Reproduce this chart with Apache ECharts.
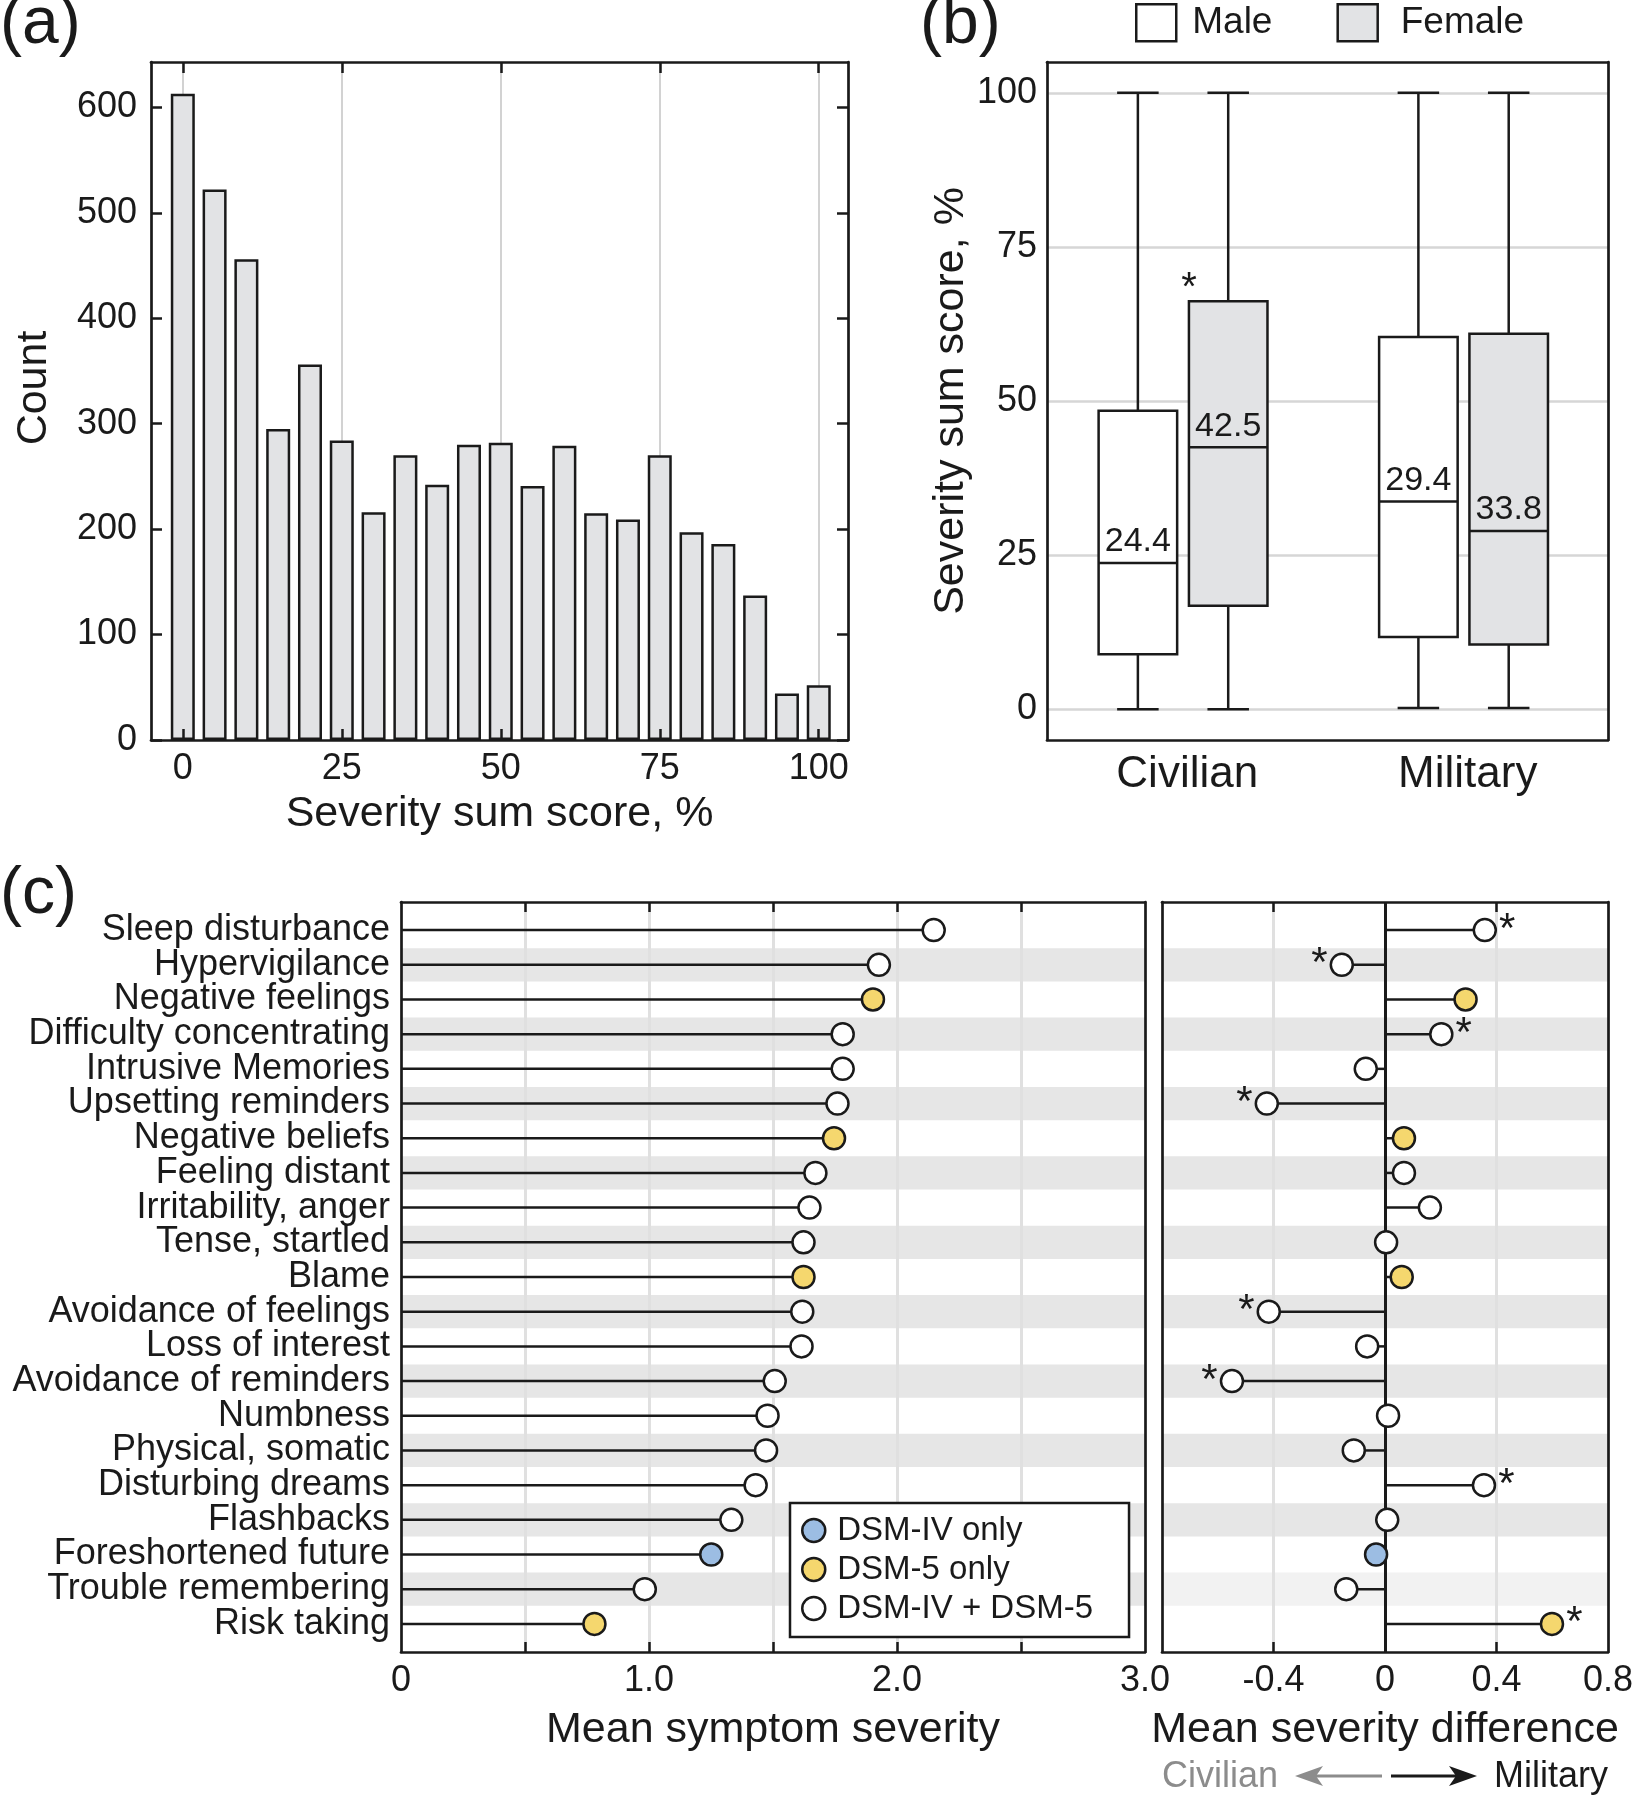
<!DOCTYPE html>
<html>
<head>
<meta charset="utf-8">
<title>PTSD symptom severity</title>
<script src="https://cdn.jsdelivr.net/npm/echarts@6/dist/echarts.min.js"></script>
<style>
    html, body { margin: 0; padding: 0; background: #fff; }
    #chart { width: 1638px; height: 1800px; }
</style>
</head>
<body>
<div id="chart"></div>
<script>
// (a) histogram of severity sum score
const binCenters = [0, 5, 10, 15, 20, 25, 30, 35, 40, 45, 50, 55, 60, 65, 70, 75, 80, 85, 90, 95, 100]
const binCounts = [613, 522, 456, 295, 356, 284, 216, 270, 242, 280, 282, 241, 279, 215, 209, 270, 197, 186, 137, 44, 52]
const scoreTicks = [0, 25, 50, 75, 100]
const countTicks = [0, 100, 200, 300, 400, 500, 600]

// (b) box plots, each row: [min, q1, median, q3, max]
const groups = ['Civilian', 'Military']
const maleStats = [[0, 8.9, 23.7, 48.4, 100], [0.2, 11.7, 33.7, 60.4, 100]]
const femaleStats = [[0, 16.8, 42.5, 66.2, 100], [0.2, 10.5, 28.9, 60.9, 100]]
const maleLabels = ['24.4', '29.4']
const femaleLabels = ['42.5', '33.8']
const femaleSignificant = [true, false]

// (c) symptoms
const symptoms = [
    'Sleep disturbance', 'Hypervigilance', 'Negative feelings', 'Difficulty concentrating',
    'Intrusive Memories', 'Upsetting reminders', 'Negative beliefs', 'Feeling distant',
    'Irritability, anger', 'Tense, startled', 'Blame', 'Avoidance of feelings',
    'Loss of interest', 'Avoidance of reminders', 'Numbness', 'Physical, somatic',
    'Disturbing dreams', 'Flashbacks', 'Foreshortened future', 'Trouble remembering', 'Risk taking'
]
const meanSeverity = [2.148, 1.927, 1.903, 1.781, 1.781, 1.760, 1.746, 1.671, 1.647, 1.623, 1.623,
    1.618, 1.615, 1.507, 1.478, 1.472, 1.430, 1.332, 1.251, 0.983, 0.780]
const meanDifference = [0.358, -0.155, 0.289, 0.202, -0.069, -0.424, 0.068, 0.068, 0.161, 0.004, 0.060,
    -0.417, -0.064, -0.549, 0.011, -0.112, 0.355, 0.008, -0.032, -0.139, 0.599]
const dsmVersion = ['both', 'both', '5', 'both', 'both', 'both', '5', 'both', 'both', 'both', '5',
    'both', 'both', 'both', 'both', 'both', 'both', 'both', 'IV', 'both', '5']
const diffSignificant = [1, 1, 0, 1, 0, 1, 0, 0, 0, 0, 0, 1, 0, 1, 0, 0, 1, 0, 0, 0, 1]
const severityTicks = [0, 1, 2, 3]
const severityGrid = [0.5, 1, 1.5, 2, 2.5]
const diffTicks = [-0.4, 0, 0.4, 0.8]
const diffGrid = [-0.4, 0.4]

const INK = '#1a1a1a'
const FONT = '"Liberation Sans", Arial, sans-serif'
const dsmNames = { IV: 'DSM-IV only', 5: 'DSM-5 only', both: 'DSM-IV + DSM-5' }
const dsmColors = { IV: '#9cbde3', 5: '#f5d76e', both: '#ffffff' }

// layout of the boxes on the hidden 0..100 x scale of panel (b)
const GROUP_X = [25, 75]
const BOX_W = 14
const CAP_W = 7.4

function merge (a, b) {
    const out = Object.assign({}, a)
    Object.keys(b).forEach(k => {
        const v = b[k]
        if (v && typeof v === 'object' && !Array.isArray(v) && a[k] && typeof a[k] === 'object') {
            out[k] = merge(a[k], v)
        } else {
            out[k] = v
        }
    })
    return out
}

// every axis doubles as a side of the frame
const frameAxis = o => merge({
    type: 'value',
    axisLine: { show: true, onZero: false, lineStyle: { color: INK, width: 2.7 } },
    axisTick: { show: false, inside: true, length: 11, lineStyle: { color: INK, width: 2.5 } },
    axisLabel: { show: false, color: INK, fontSize: 36, fontFamily: FONT, showMinLabel: true, showMaxLabel: true },
    splitLine: { show: false },
    nameTextStyle: { fontSize: 43, color: INK, fontFamily: FONT }
}, o)

const rowRange = { min: -0.81, max: 20.81, inverse: true }
const rowIdx = symptoms.map((s, i) => i)
// row labels sit closer than their own height, so they are split over two
// overlapping left axes to keep echarts from hiding any of them
const evenRows = rowIdx.filter(i => i % 2 === 0)
const oddRows = rowIdx.filter(i => i % 2 === 1)

function boxSeries (name, stats, labels, offset, fill, sig) {
    return {
        type: 'custom',
        name,
        xAxisIndex: 2,
        yAxisIndex: 2,
        silent: true,
        data: stats,
        itemStyle: { color: fill, borderColor: INK },
        renderItem (params, api) {
            const g = params.dataIndex
            const [lo, q1, med, q3, hi] = stats[g]
            const cx = GROUP_X[g] + offset
            const px = v => api.coord([v, 0])[0]
            const py = v => api.coord([cx, v])[1]
            const xl = px(cx - BOX_W / 2)
            const xr = px(cx + BOX_W / 2)
            const xc = px(cx)
            const cl = px(cx - CAP_W / 2)
            const cr = px(cx + CAP_W / 2)
            const line = (x1, y1, x2, y2) => ({
                type: 'line',
                shape: { x1, y1, x2, y2 },
                style: { stroke: INK, lineWidth: 2.5 }
            })
            const children = [
                line(xc, py(hi), xc, py(q3)),
                line(xc, py(lo), xc, py(q1)),
                line(cl, py(hi), cr, py(hi)),
                line(cl, py(lo), cr, py(lo)),
                {
                    type: 'rect',
                    shape: { x: xl, y: py(q3), width: xr - xl, height: py(q1) - py(q3) },
                    style: { fill, stroke: INK, lineWidth: 2.5 }
                },
                line(xl, py(med), xr, py(med)),
                {
                    type: 'text',
                    style: {
                        text: labels[g], x: xc, y: py(med) - 4,
                        align: 'center', verticalAlign: 'bottom',
                        font: '34px ' + FONT, fill: INK
                    }
                }
            ]
            if (sig && sig[g]) {
                children.push({
                    type: 'text',
                    style: {
                        text: '*', x: xl, y: py(q3) + 8,
                        align: 'center', verticalAlign: 'bottom',
                        font: '40px ' + FONT, fill: INK
                    }
                })
            }
            return { type: 'group', children }
        }
    }
}

function stemSeries (values, axisIndex, extra) {
    return Object.assign({
        type: 'custom',
        xAxisIndex: axisIndex,
        yAxisIndex: axisIndex,
        silent: true,
        z: 3,
        data: values.map((v, i) => [v, i]),
        renderItem (params, api) {
            const start = api.coord([0, api.value(1)])
            const end = api.coord([api.value(0), api.value(1)])
            return {
                type: 'line',
                shape: { x1: start[0], y1: start[1], x2: end[0], y2: end[1] },
                style: { stroke: INK, lineWidth: 2.5 }
            }
        }
    }, extra)
}

// shaded bands behind every second symptom row
const bands = (fadeRow) => oddRows.map(i => [
    { yAxis: i - 0.48, itemStyle: { color: i === fadeRow ? '#f2f2f2' : '#e6e6e6' } },
    { yAxis: i + 0.48 }
])

const chart = echarts.init(document.getElementById('chart'))

const option = {
    animation: false,
    textStyle: { fontFamily: FONT, color: INK },
    grid: [
        { left: 151, top: 62, right: 790, bottom: 1060 },
        { left: 1047, top: 62, right: 30, bottom: 1060 },
        { left: 401, top: 902, right: 493, bottom: 148 },
        { left: 1162, top: 902, right: 30, bottom: 148 }
    ],
    xAxis: [
        frameAxis({
            gridIndex: 0, min: -5, max: 104.6, z: 5,
            axisTick: { show: true, customValues: scoreTicks },
            axisLabel: { show: true, customValues: scoreTicks, margin: 11 },
            name: 'Severity sum score, %', nameLocation: 'middle', nameGap: 53
        }),
        frameAxis({
            gridIndex: 0, position: 'top', min: -5, max: 104.6,
            axisTick: { show: true, customValues: scoreTicks },
            splitLine: { show: true, lineStyle: { color: '#d2d2d2', width: 2 } }
        }),
        frameAxis({
            gridIndex: 1, min: 0, max: 100,
            axisLabel: {
                show: true, customValues: GROUP_X, fontSize: 44, margin: 13,
                formatter: v => groups[GROUP_X.indexOf(v)]
            }
        }),
        frameAxis({ gridIndex: 1, position: 'top', min: 0, max: 100 }),
        frameAxis({
            gridIndex: 2, min: 0, max: 3, z: 1,
            axisTick: { show: true, customValues: severityGrid, length: 10 },
            axisLabel: {
                show: true, customValues: severityTicks, margin: 11,
                formatter: v => (v === 0 ? '0' : v.toFixed(1))
            },
            splitLine: { show: true, lineStyle: { color: '#e0e0e0', width: 3 } },
            name: 'Mean symptom severity', nameLocation: 'middle', nameGap: 57
        }),
        frameAxis({
            gridIndex: 2, position: 'top', min: 0, max: 3, z: 1,
            axisTick: { show: true, customValues: severityGrid, length: 10 }
        }),
        frameAxis({
            gridIndex: 3, min: -0.8, max: 0.8, z: 1,
            axisTick: { show: true, customValues: diffGrid, length: 10 },
            axisLabel: {
                show: true, customValues: diffTicks, margin: 11,
                formatter: v => (v === 0 ? '0' : v.toFixed(1))
            },
            splitLine: { show: true, lineStyle: { color: '#e0e0e0', width: 3 } },
            name: 'Mean severity difference', nameLocation: 'middle', nameGap: 57
        }),
        frameAxis({
            gridIndex: 3, position: 'top', min: -0.8, max: 0.8, z: 1,
            axisTick: { show: true, customValues: diffGrid, length: 10 }
        })
    ],
    yAxis: [
        frameAxis({
            gridIndex: 0, min: 0, max: 643,
            axisTick: { show: true, customValues: countTicks },
            axisLabel: { show: true, customValues: countTicks, margin: 14 },
            name: 'Count', nameLocation: 'middle', nameGap: 95,
            nameTextStyle: { padding: [0, 0, 0, 26] }
        }),
        frameAxis({
            gridIndex: 0, position: 'right', min: 0, max: 643,
            axisTick: { show: true, customValues: countTicks }
        }),
        frameAxis({
            gridIndex: 1, min: -5, max: 105,
            axisTick: { customValues: scoreTicks },
            axisLabel: { show: true, customValues: scoreTicks, margin: 10 },
            splitLine: { show: true, lineStyle: { color: '#d6d6d6', width: 2.5 } },
            name: 'Severity sum score, %', nameLocation: 'middle', nameGap: 72
        }),
        frameAxis({ gridIndex: 1, position: 'right', min: -5, max: 105 }),
        frameAxis(Object.assign({
            gridIndex: 2, z: 1,
            axisLabel: { show: true, customValues: evenRows, margin: 11, formatter: v => symptoms[v] }
        }, rowRange)),
        frameAxis(Object.assign({ gridIndex: 2, position: 'right', z: 1 }, rowRange)),
        frameAxis(Object.assign({ gridIndex: 3, z: 1 }, rowRange)),
        frameAxis(Object.assign({ gridIndex: 3, position: 'right', z: 1 }, rowRange)),
        frameAxis(Object.assign({
            gridIndex: 2, position: 'left', offset: 0, z: 1,
            axisLine: { show: false },
            axisLabel: { show: true, customValues: oddRows, margin: 11, formatter: v => symptoms[v] }
        }, rowRange))
    ],
    legend: [
        {
            left: 1135, top: 3, padding: 0,
            itemWidth: 40, itemHeight: 37, itemGap: 64,
            icon: 'rect', selectedMode: false,
            textStyle: { fontSize: 37, color: INK, padding: [0, 0, 0, 11] },
            data: [
                { name: 'Male', itemStyle: { color: '#ffffff', borderColor: INK, borderWidth: 2.5 } },
                {
                    name: 'Female',
                    itemStyle: { color: '#e2e3e5', borderColor: INK, borderWidth: 2.5 },
                    textStyle: { padding: [0, 0, 0, 18] }
                }
            ]
        },
        {
            left: 790, top: 1503, orient: 'vertical',
            padding: [11, 36, 12, 11],
            backgroundColor: '#ffffff', borderColor: INK, borderWidth: 2.5,
            itemWidth: 23, itemHeight: 23, itemGap: 6,
            icon: 'circle', selectedMode: false,
            textStyle: { fontSize: 33, color: INK, padding: [0, 0, 0, 7] },
            data: ['IV', '5', 'both'].map(t => ({
                name: dsmNames[t],
                itemStyle: { color: dsmColors[t], borderColor: INK, borderWidth: 2.5 }
            }))
        }
    ],
    graphic: [
        { type: 'text', x: 0, y: -8, style: { text: '(a)', font: '66px ' + FONT, fill: INK, verticalAlign: 'top' } },
        { type: 'text', x: 920, y: -8, style: { text: '(b)', font: '66px ' + FONT, fill: INK, verticalAlign: 'top' } },
        { type: 'text', x: 0, y: 862, style: { text: '(c)', font: '66px ' + FONT, fill: INK, verticalAlign: 'top' } },
        { type: 'text', x: 1162, y: 1777, style: { text: 'Civilian', font: '36px ' + FONT, fill: '#8c8c8c', verticalAlign: 'middle' } },
        { type: 'text', x: 1608, y: 1777, style: { text: 'Military', font: '36px ' + FONT, fill: INK, align: 'right', verticalAlign: 'middle' } },
        { type: 'line', shape: { x1: 1382, y1: 1776, x2: 1312, y2: 1776 }, style: { stroke: '#8c8c8c', lineWidth: 3 } },
        { type: 'polygon', shape: { points: [[1295, 1776], [1323, 1766], [1316, 1776], [1323, 1786]] }, style: { fill: '#8c8c8c' } },
        { type: 'line', shape: { x1: 1391, y1: 1776, x2: 1460, y2: 1776 }, style: { stroke: INK, lineWidth: 3 } },
        { type: 'polygon', shape: { points: [[1477, 1776], [1449, 1766], [1456, 1776], [1449, 1786]] }, style: { fill: INK } }
    ],
    series: [
        {
            type: 'bar',
            xAxisIndex: 0,
            yAxisIndex: 0,
            silent: true,
            barWidth: 24,
            data: binCenters.map((b, i) => [b, binCounts[i]]),
            itemStyle: { color: '#e2e3e5', borderColor: INK, borderWidth: 2.5 }
        },
        boxSeries('Male', maleStats, maleLabels, -8.8, '#ffffff', null),
        boxSeries('Female', femaleStats, femaleLabels, 7.3, '#e2e3e5', femaleSignificant),
        stemSeries(meanSeverity, 4, {
            markArea: { silent: true, z: 0, data: bands(-1) }
        }),
        ...['IV', '5', 'both'].map(t => ({
            type: 'scatter',
            name: dsmNames[t],
            xAxisIndex: 4,
            yAxisIndex: 4,
            z: 10,
            silent: true,
            symbol: 'circle',
            symbolSize: 22,
            itemStyle: { color: dsmColors[t], borderColor: INK, borderWidth: 2.5, opacity: 1 },
            data: meanSeverity.map((v, i) => (dsmVersion[i] === t ? [v, i] : null)).filter(d => d)
        })),
        stemSeries(meanDifference, 6, {
            markArea: { silent: true, z: 0, data: bands(19) },
            markLine: {
                silent: true, z: 5, symbol: ['none', 'none'],
                label: { show: false },
                lineStyle: { color: INK, width: 3, type: 'solid' },
                data: [{ xAxis: 0 }]
            }
        }),
        {
            type: 'scatter',
            name: 'difference',
            xAxisIndex: 6,
            yAxisIndex: 6,
            z: 10,
            silent: true,
            symbol: 'circle',
            symbolSize: 22,
            itemStyle: { borderColor: INK, borderWidth: 2.5, opacity: 1 },
            label: { formatter: '*', distance: 2, fontSize: 42, color: INK },
            data: meanDifference.map((v, i) => ({
                value: [v, i],
                itemStyle: { color: dsmColors[dsmVersion[i]] },
                label: { show: diffSignificant[i] === 1, position: v > 0 ? 'right' : 'left' }
            }))
        }
    ]
}

chart.setOption(option)
</script>
</body>
</html>
